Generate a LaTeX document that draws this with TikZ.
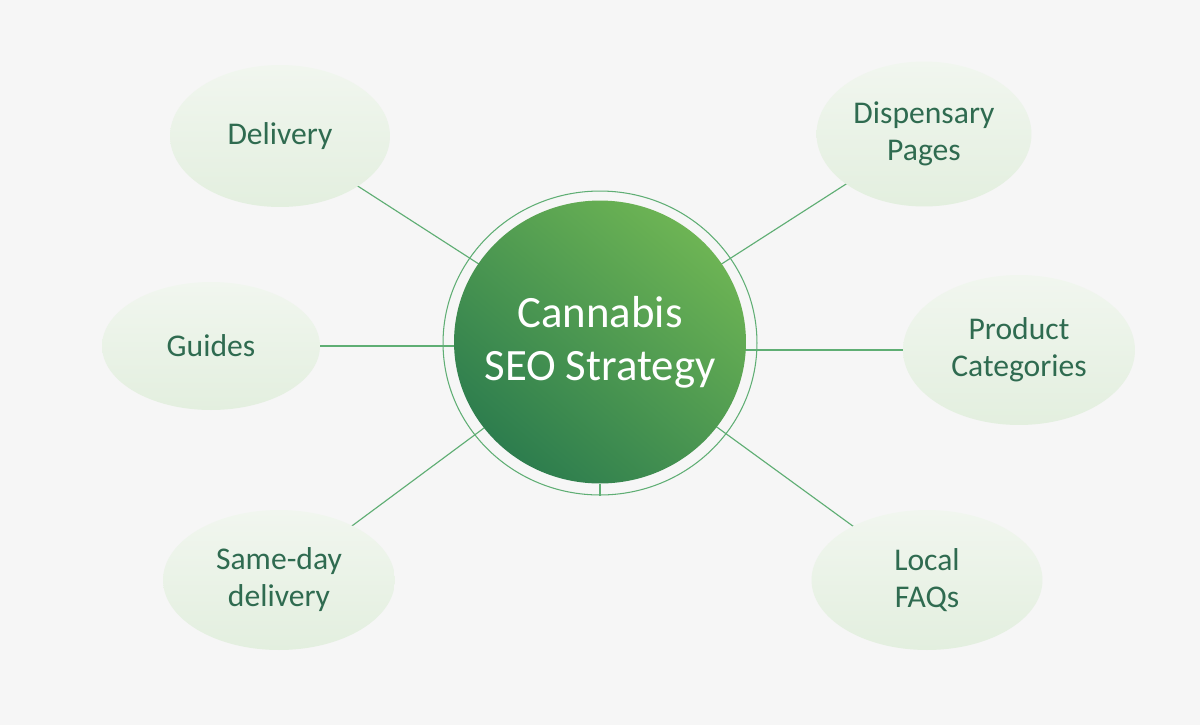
\documentclass[tikz,border=0pt]{standalone}
\usepackage{fontspec}
\setmainfont{Carlito}
\usetikzlibrary{shapes.geometric,backgrounds}
\definecolor{bgc}{HTML}{F6F6F6}
\definecolor{linec}{HTML}{5FAE74}
\definecolor{txtc}{HTML}{2F6B50}
\definecolor{elltop}{HTML}{F1F6EF}
\definecolor{ellbot}{HTML}{E3EFDF}
\definecolor{hublight}{HTML}{6DB454}
\definecolor{hubdark}{HTML}{2D7D4E}
\tikzset{
  sat/.style={ellipse, inner sep=0pt, top color=elltop, bottom color=ellbot,
    text=txtc, align=center, font=\fontsize{18}{21}\selectfont},
  conn/.style={draw=linec, line width=0.65pt},
  hubstyle/.style={ellipse, inner sep=0pt, minimum width=5.84cm, minimum height=5.66cm,
    top color=hublight, bottom color=hubdark, shading angle=-40},
  hubtext/.style={text=white, align=center, inner sep=0pt, font=\fontsize{25.5}{30}\selectfont},
  ringstyle/.style={ellipse, inner sep=0pt, minimum width=6.28cm, minimum height=6.08cm,
    draw=linec, line width=0.6pt}
}
\begin{document}
\begin{tikzpicture}[x=0.02cm,y=-0.02cm]
\useasboundingbox (0,0) rectangle (1200,725);
\node[ringstyle] (ring) at (600,343) {};
\node[hubstyle] (hub) at (600,342) {};
\node[hubtext] (hubtxt) at (hub.center) {Cannabis\\SEO Strategy};
\node[sat, minimum width=4.4cm, minimum height=2.84cm] (del) at (280,136) {Delivery};
\node[sat, minimum width=4.3cm, minimum height=2.9cm] (disp) at (924,134) {Dispensary\\Pages};
\node[sat, minimum width=4.36cm, minimum height=2.56cm] (gui) at (211,346) {Guides};
\node[sat, minimum width=4.64cm, minimum height=3.0cm] (prod) at (1019,350) {Product\\Categories};
\node[sat, minimum width=4.64cm, minimum height=2.8cm] (same) at (279,580) {Same-day\\delivery};
\node[sat, minimum width=4.62cm, minimum height=2.8cm] (faq) at (927,580) {Local\\FAQs};
\draw[conn] (hub.south) -- (ring.south);
\begin{pgfonlayer}{background}
\fill[bgc] (0,0) rectangle (1200,725);
\draw[conn] (del.center) -- (hub.center);
\draw[conn] (disp.center) -- (hub.center);
\draw[conn] (gui.center) -- (gui.center -| hub.center);
\draw[conn] (prod.center) -- (prod.center -| hub.center);
\draw[conn] (same.center) -- (hub.center);
\draw[conn] (faq.center) -- (hub.center);
\end{pgfonlayer}
\end{tikzpicture}
\end{document}
